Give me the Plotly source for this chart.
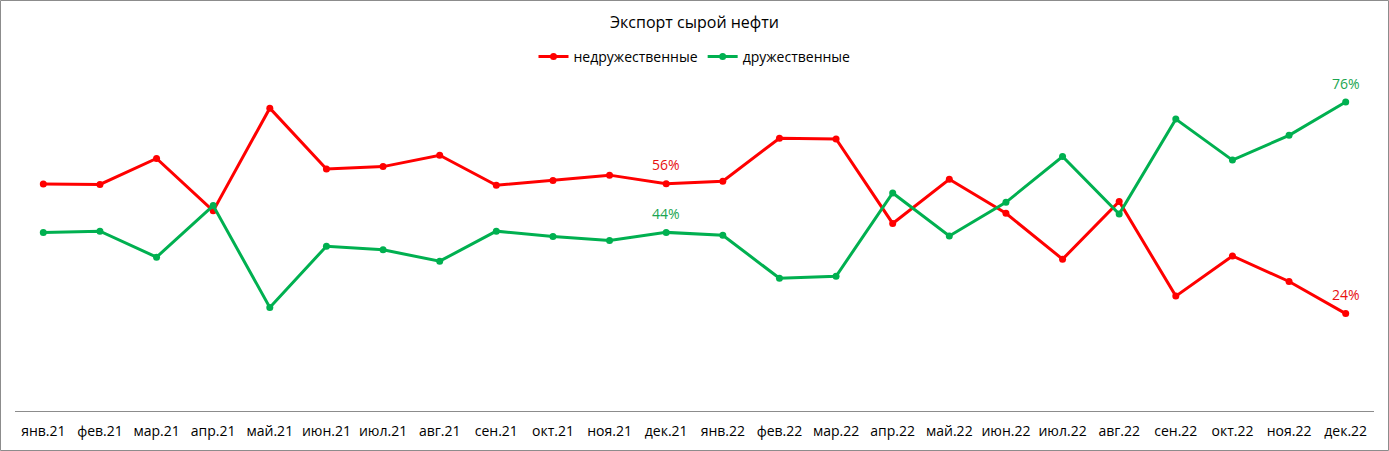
import plotly.graph_objects as go

months = ["янв.21", "фев.21", "мар.21", "апр.21", "май.21", "июн.21", "июл.21", "авг.21",
          "сен.21", "окт.21", "ноя.21", "дек.21", "янв.22", "фев.22", "мар.22", "апр.22",
          "май.22", "июн.22", "июл.22", "авг.22", "сен.22", "окт.22", "ноя.22", "дек.22"]

unfriendly = [55.9, 55.8, 62.2, 49.3, 74.6, 59.6, 60.2, 63.0, 55.6, 56.8, 58.1, 56.0,
              56.6, 67.2, 67.0, 46.2, 57.1, 48.7, 37.4, 51.6, 28.3, 38.2, 31.9, 24.0]
friendly = [44.0, 44.3, 37.9, 50.6, 25.5, 40.6, 39.7, 36.9, 44.3, 43.0, 42.0, 44.0,
            43.3, 32.7, 33.2, 53.7, 43.1, 51.4, 62.7, 48.5, 71.9, 61.8, 67.9, 76.1]

labelled_idx = [11, 23]

RED = "#FF0000"
GREEN = "#00B050"
FONT = "Open Sans"

fig = go.Figure()
fig.add_trace(go.Scatter(x=months, y=unfriendly, name="недружественные", mode="lines+markers",
                         line=dict(color=RED, width=3), marker=dict(color=RED, size=7)))
fig.add_trace(go.Scatter(x=months, y=friendly, name="дружественные", mode="lines+markers",
                         line=dict(color=GREEN, width=3), marker=dict(color=GREEN, size=7)))

annotations = []
for i in labelled_idx:
    for series, col in ((unfriendly, "#E81010"), (friendly, "#1AA550")):
        annotations.append(dict(x=months[i], y=series[i], text=f"{series[i]:.0f}%",
                                showarrow=False, yshift=19, font=dict(family=FONT, size=14, color=col)))

W, H = 1389, 451
ml, mr, mt, mb = 15, 15, 70, 40
pw, ph = W - ml - mr, H - mt - mb

fig.update_layout(
    width=W, height=H,
    margin=dict(l=ml, r=mr, t=mt, b=mb),
    paper_bgcolor="white", plot_bgcolor="white",
    font=dict(family=FONT, size=14, color="#000000"),
    title=dict(text="Экспорт сырой нефти", x=0.5, xanchor="center", y=1 - 22 / H, yanchor="middle",
               font=dict(family=FONT, size=16, color="#000000")),
    legend=dict(orientation="h", x=0.5, xanchor="center", y=1 + 13 / ph, yanchor="middle",
                font=dict(family=FONT, size=14), itemwidth=30, tracegroupgap=0),
    showlegend=True,
    annotations=annotations,
    xaxis=dict(type="category", range=[-0.5, 23.5], showgrid=False, zeroline=False,
               showline=True, linecolor="#8C8C8C", linewidth=1,
               ticks="outside", ticklen=7, tickcolor="rgba(0,0,0,0)",
               tickfont=dict(family=FONT, size=14, color="#000000")),
    yaxis=dict(range=[0, 84], visible=False, showgrid=False, zeroline=False),
    shapes=[dict(type="rect", xref="paper", yref="paper",
                 x0=-(ml - 0.5) / pw, x1=1 + (mr - 0.5) / pw,
                 y0=-(mb - 0.5) / ph, y1=1 + (mt - 0.5) / ph,
                 line=dict(color="#8C8C8C", width=1), layer="below")],
)

fig.write_html("out.html")
